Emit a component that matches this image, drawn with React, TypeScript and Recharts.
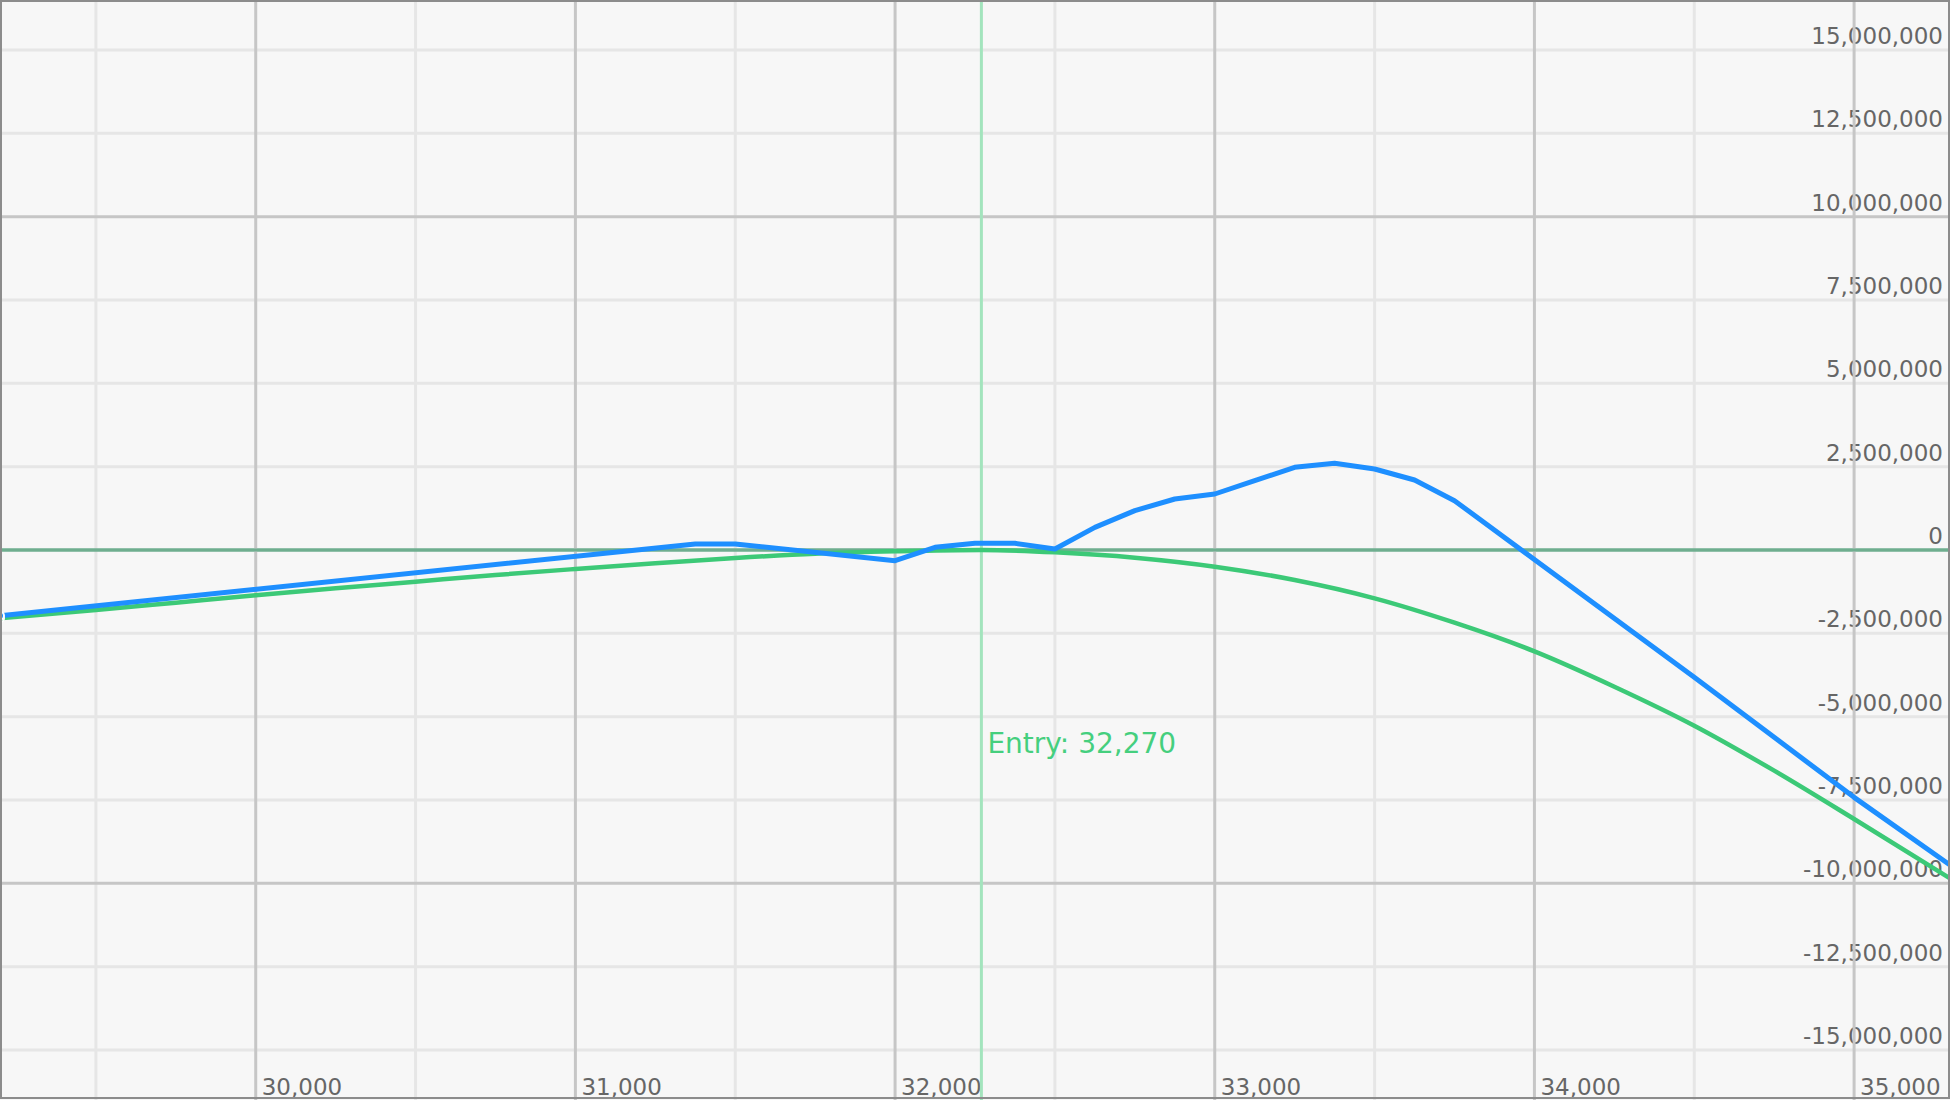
import React from "react"
import { LineChart, Line, XAxis, YAxis, ReferenceLine } from "recharts"

// price axis
const priceTicks = [30000, 31000, 32000, 33000, 34000, 35000]
const priceMinorLines = [29500, 30500, 31500, 32500, 33500, 34500]
const entryPrice = 32270

// pnl axis
const pnlTicks = [
  -15000000, -12500000, -10000000, -7500000, -5000000, -2500000, 0, 2500000, 5000000, 7500000,
  10000000, 12500000, 15000000,
]
const pnlMajorLines = [-10000000, 10000000]

// blue: at expiry
const expiryPrices = [
  29200, 31375, 31500, 32000, 32125, 32250, 32375, 32500, 32625, 32750, 32875, 33000, 33125, 33250,
  33375, 33500, 33625, 33750, 34500, 35000, 35300,
]
const expiryPnl = [
  -1970000, 180000, 180000, -320000, 80000, 200000, 200000, 30000, 680000, 1180000, 1530000, 1680000,
  2080000, 2480000, 2600000, 2430000, 2100000, 1480000, -3820000, -7420000, -9450000,
]

// green: today
const todayPrices = [
  29200, 29500, 29750, 30000, 30250, 30500, 30750, 31000, 31250, 31500, 31750, 32000, 32270, 32500,
  32750, 33000, 33250, 33500, 33750, 34000, 34250, 34500, 34750, 35000, 35300,
]
const todayPnl = [
  -2050000, -1800000, -1580000, -1360000, -1150000, -950000, -750000, -570000, -400000, -240000,
  -110000, -40000, 0, -70000, -230000, -500000, -900000, -1450000, -2180000, -3040000, -4100000,
  -5270000, -6620000, -8070000, -9850000,
]

const expiryData = expiryPrices.map((x, i) => ({ x, pnl: expiryPnl[i] }))
const todayData = todayPrices.map((x, i) => ({ x, pnl: todayPnl[i] }))

const W = 1950
const H = 1100
const font = "DejaVu Sans, Verdana, sans-serif"
const fmt = (v: number) => v.toLocaleString("en-US")

const priceLabel = (v: number) => (p: any) => {
  const vb = p.viewBox
  return (
    <text x={vb.x + 6} y={vb.y + vb.height - 5} textAnchor="start" fill="#666" fontSize={23} fontFamily={font}>
      {fmt(v)}
    </text>
  )
}

const pnlLabel = (v: number) => (p: any) => {
  const vb = p.viewBox
  return (
    <text x={vb.x + vb.width - 7} y={vb.y - 6} textAnchor="end" fill="#666" fontSize={23} fontFamily={font}>
      {fmt(v)}
    </text>
  )
}

const entryLabel = (p: any) => {
  const vb = p.viewBox
  return (
    <text x={vb.x + 6} y={753} fill="#45cf7e" fontSize={28} fontFamily={font}>
      {"Entry: " + fmt(entryPrice)}
    </text>
  )
}

const pnlLineColor = (v: number) => (v === 0 ? "#6fae8f" : pnlMajorLines.includes(v) ? "#c6c6c6" : "#e6e6e6")

export default function App() {
  return (
    <div style={{ position: "relative", width: W, height: H, background: "#f7f7f7" }}>
      <style>{"body{margin:0}"}</style>
      <LineChart width={W} height={H} margin={{ top: 0, right: 0, bottom: 0, left: 0 }}>
        <XAxis dataKey="x" type="number" domain={[29200, 35300]} hide allowDataOverflow />
        <YAxis type="number" domain={[-16500000, 16500000]} hide allowDataOverflow />
        {priceMinorLines.map((v) => (
          <ReferenceLine key={"pm" + v} x={v} stroke="#e6e6e6" strokeWidth={3} />
        ))}
        {pnlTicks.map((v) => (
          <ReferenceLine key={"y" + v} y={v} stroke={pnlLineColor(v)} strokeWidth={3} label={pnlLabel(v)} />
        ))}
        {priceTicks.map((v) => (
          <ReferenceLine key={"pM" + v} x={v} stroke="#c6c6c6" strokeWidth={3} label={priceLabel(v)} />
        ))}
        <ReferenceLine y={0} stroke="#6fae8f" strokeWidth={3} />
        <ReferenceLine x={entryPrice} stroke="#a3e4bd" strokeWidth={3} label={entryLabel} />
        <Line
          data={todayData}
          dataKey="pnl"
          type="monotone"
          stroke="#3cc977"
          strokeWidth={4.5}
          dot={false}
          isAnimationActive={false}
        />
        <Line
          data={expiryData}
          dataKey="pnl"
          type="linear"
          stroke="#1e8fff"
          strokeWidth={5}
          strokeLinejoin="round"
          dot={false}
          isAnimationActive={false}
        />
      </LineChart>
      <div
        style={{
          position: "absolute",
          left: 0,
          top: 0,
          width: W,
          height: H - 1,
          boxSizing: "border-box",
          border: "2px solid #8c8c8c",
          pointerEvents: "none",
        }}
      />
    </div>
  )
}
